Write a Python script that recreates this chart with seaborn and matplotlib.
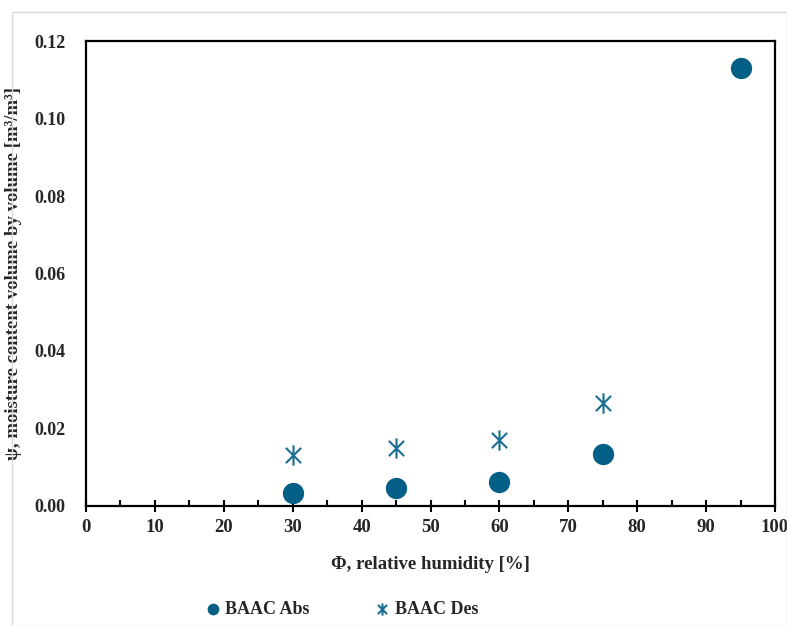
import matplotlib
matplotlib.use("Agg")
import matplotlib.pyplot as plt
import numpy as np
import pandas as pd
import seaborn as sns
from matplotlib.path import Path
from matplotlib.patches import Rectangle
from matplotlib.ticker import MultipleLocator

# values
rh_abs = [30, 45, 60, 75, 95]
psi_abs = [0.0034, 0.0047, 0.0063, 0.0135, 0.1130]
rh_des = [30, 45, 60, 75]
psi_des = [0.0132, 0.0150, 0.0171, 0.0267]
series_names = ["BAAC Abs", "BAAC Des"]
y_ticks = [0.00, 0.02, 0.04, 0.06, 0.08, 0.10, 0.12]

abs_color = "#035f85"
des_color = "#1b6e91"

sns.set_theme(style="white")
plt.rcParams["font.family"] = ["Liberation Serif", "DejaVu Serif"]
plt.rcParams["font.weight"] = "bold"

# Excel-style star: vertical bar plus an X
star = Path(
    [(0, -1), (0, 1), (-0.75, -0.75), (0.75, 0.75), (-0.75, 0.75), (0.75, -0.75)],
    [Path.MOVETO, Path.LINETO, Path.MOVETO, Path.LINETO, Path.MOVETO, Path.LINETO],
)

df_abs = pd.DataFrame({"rh": rh_abs, "psi": psi_abs})
df_des = pd.DataFrame({"rh": rh_des, "psi": psi_des})

fig = plt.figure(figsize=(7.87, 6.26), dpi=100)
ax = fig.add_axes([0.1093, 0.1917, 0.8755, 0.7428])

sns.scatterplot(data=df_abs, x="rh", y="psi", ax=ax, marker="o", s=235,
                color=abs_color, edgecolor=abs_color, linewidth=0, label=series_names[0])
sns.scatterplot(data=df_des, x="rh", y="psi", ax=ax, marker=star, s=215,
                color=des_color, edgecolor=des_color, linewidth=1.5, label=series_names[1])

ax.set_xlim(0, 100)
ax.set_ylim(0, 0.12)
ax.xaxis.set_major_locator(MultipleLocator(10))
ax.xaxis.set_minor_locator(MultipleLocator(5))
ax.set_yticks(y_ticks)
ax.set_yticklabels([f"{v:.2f}" for v in y_ticks])

for side in ["left", "right", "top", "bottom"]:
    ax.spines[side].set_visible(True)
    ax.spines[side].set_color("black")
    ax.spines[side].set_linewidth(1.6)

ax.tick_params(axis="x", which="major", direction="inout", length=9, width=1.5,
               color="black", labelsize=13.5, pad=5, bottom=True)
ax.tick_params(axis="x", which="minor", direction="in", length=4, width=1.5,
               color="black", bottom=True)
ax.tick_params(axis="y", which="both", length=0, labelsize=13, pad=15)
for lab in ax.get_xticklabels() + ax.get_yticklabels():
    lab.set_fontweight("bold")

ax.set_xlabel("Φ, relative humidity [%]", fontsize=13.5, fontweight="bold")
ax.xaxis.set_label_coords(0.5, -0.108)
ax.set_ylabel("ψ, moisture content volume by volume [m³/m³]", fontsize=13.5,
              fontweight="bold")
ax.yaxis.set_label_coords(-0.093, 0.5)

ax.get_legend().remove()
handles, labels = ax.get_legend_handles_labels()
leg_x = [0.259, 0.474]
leg_scale = [0.55, 0.6]
for h, lab, x, sc in zip(handles, labels, leg_x, leg_scale):
    fig.legend([h], [lab], loc="center left", bbox_to_anchor=(x, 0.027),
               frameon=False, prop={"weight": "bold", "size": 13},
               handlelength=1.0, handletextpad=0.2, borderpad=0,
               borderaxespad=0, markerscale=sc)

# light frame around the whole chart area
fig.patches.append(Rectangle((0.015, 0.0), 0.985, 0.981, transform=fig.transFigure,
                             fill=False, edgecolor="#d9d9d9", linewidth=1.0))

fig.savefig("out.png", dpi=100)
plt.close(fig)
